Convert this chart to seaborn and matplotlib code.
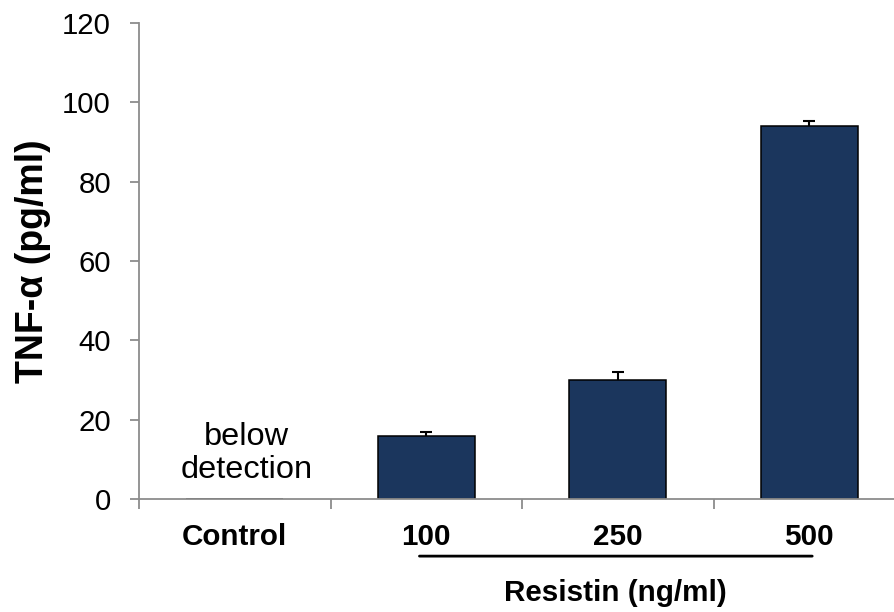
import matplotlib
matplotlib.use("Agg")
import matplotlib.pyplot as plt
import seaborn as sns
import pandas as pd

# Resistin doses and measured TNF-alpha
categories = ["Control", "100", "250", "500"]
tnf_values = [0.0, 16.0, 30.0, 94.0]
tnf_errors = [0.0, 0.9, 2.0, 1.2]
y_ticks = [0, 20, 40, 60, 80, 100, 120]

sns.set_style("white")
plt.rcParams["font.family"] = ["Liberation Sans", "DejaVu Sans"]
plt.rcParams["text.color"] = "black"
plt.rcParams["xtick.color"] = "black"
plt.rcParams["ytick.color"] = "black"
plt.rcParams["axes.labelcolor"] = "black"

df = pd.DataFrame({"dose": categories, "tnf": tnf_values})

fig = plt.figure(figsize=(8.95, 6.12), dpi=100)
ax = fig.add_axes([139 / 895, 1 - 499 / 612, 766 / 895, 476 / 612])

sns.barplot(data=df, x="dose", y="tnf", order=categories, color="#1B365D",
            saturation=1, width=0.505, edgecolor="black", linewidth=1.1,
            errorbar=None, ax=ax, zorder=2)
ax.errorbar(range(len(categories))[1:], tnf_values[1:], yerr=tnf_errors[1:],
            fmt="none", ecolor="black", elinewidth=1.5, capsize=4.5,
            capthick=1.5, zorder=1)

axis_grey = "#8c8c8c"
ax.set_xlim(-0.5, len(categories) - 0.5)
ax.set_ylim(0, 120)
ax.set_yticks(y_ticks)
ax.set_yticklabels([str(t) for t in y_ticks], fontsize=21.2)
ax.set_xticks(range(len(categories)))
ax.set_xticklabels(categories, fontsize=21.3, fontweight="bold")
ax.set_xticks([i - 0.5 for i in range(len(categories) + 1)], minor=True)
ax.tick_params(axis="x", which="major", length=0, pad=17)
ax.tick_params(axis="x", which="minor", length=7, width=1.3,
               color=axis_grey, direction="out", bottom=True)
ax.tick_params(axis="y", length=6.5, width=1.3, color=axis_grey,
               labelcolor="black", direction="out", left=True, pad=13.7)

for side in ("top", "right"):
    ax.spines[side].set_visible(False)
for side in ("left", "bottom"):
    ax.spines[side].set_color(axis_grey)
    ax.spines[side].set_linewidth(1.3)

ax.set_xlabel("")
ax.set_ylabel("TNF-α (pg/ml)", fontsize=27, fontweight="bold")
ax.yaxis.set_label_coords(-88 / 766, 0.5)

ax.text(0.06, 11.5, "below\ndetection", ha="center", va="center",
        fontsize=23.4, linespacing=1.12)

# bracket under the resistin doses
ax.annotate("", xy=(0.95, -14.4), xytext=(3.03, -14.4),
            xycoords="data", annotation_clip=False,
            arrowprops=dict(arrowstyle="-", color="black", lw=2))
ax.text(1.99, -23.8, "Resistin (ng/ml)", ha="center", va="center",
        fontsize=21.3, fontweight="bold", clip_on=False)

fig.savefig("out.png", dpi=100)
